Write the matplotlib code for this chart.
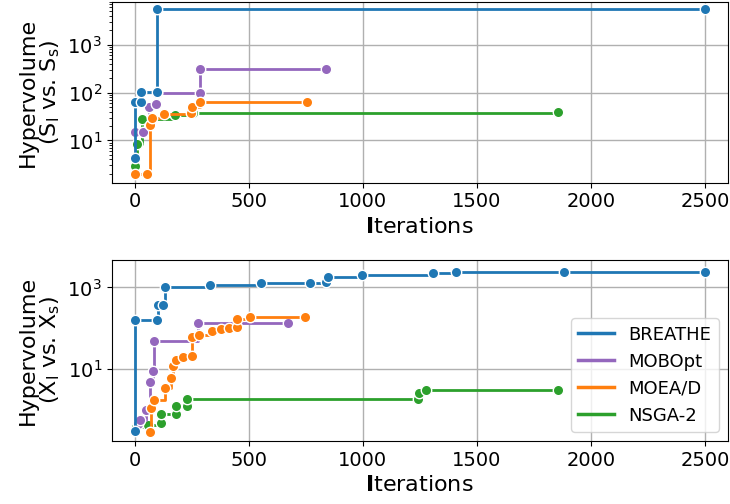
import matplotlib.pyplot as plt
from matplotlib.lines import Line2D
from matplotlib.ticker import NullLocator

methods = ["BREATHE", "MOBOpt", "MOEA/D", "NSGA-2"]
colors = {"BREATHE": "#1f77b4", "MOBOpt": "#9467bd", "MOEA/D": "#ff7f0e", "NSGA-2": "#2ca02c"}

# top panel: hypervolume (S_l vs. S_s)
top_x = {
    "BREATHE": [0, 0, 30, 30, 100, 100, 2500],
    "MOBOpt": [0, 37, 63, 92, 100, 285, 285, 838],
    "MOEA/D": [0, 56, 70, 76, 129, 249, 252, 285, 756],
    "NSGA-2": [0, 12, 32, 176, 255, 1858],
}
top_y = {
    "BREATHE": [4.3, 64, 64, 105, 105, 5600, 5600],
    "MOBOpt": [14.7, 15, 49, 57, 100, 100, 310, 310],
    "MOEA/D": [1.96, 1.96, 21, 30, 36, 37, 50, 63, 63],
    "NSGA-2": [2.9, 8.4, 28, 34, 38, 38.6],
}

# bottom panel: hypervolume (X_l vs. X_s)
bot_x = {
    "BREATHE": [0, 0, 98, 105, 127, 135, 329, 556, 768, 840, 846, 998, 1307, 1408, 1883, 2500],
    "MOBOpt": [15, 22, 51, 70, 80, 85, 278, 673],
    "MOEA/D": [70, 73, 85, 132, 158, 168, 183, 212, 252, 252, 283, 340, 380, 414, 447, 447, 505, 749],
    "NSGA-2": [5, 60, 115, 115, 180, 180, 230, 230, 1242, 1246, 1277, 1858],
}
bot_y = {
    "BREATHE": [0.29, 159, 159, 370, 370, 1040, 1180, 1320, 1320, 1400, 1830, 2040, 2240, 2400, 2460, 2460],
    "MOBOpt": [0.45, 0.54, 0.95, 4.7, 8.7, 49, 131, 131],
    "MOEA/D": [0.28, 1.1, 1.67, 3.35, 5.9, 12, 16.6, 19.3, 20.4, 60, 66, 85, 94, 100, 105, 167, 183, 183],
    "NSGA-2": [0.38, 0.42, 0.47, 0.76, 0.78, 1.2, 1.22, 1.84, 1.84, 2.6, 3.05, 3.05],
}

draw_order = ["NSGA-2", "MOBOpt", "MOEA/D", "BREATHE"]

fig, axes = plt.subplots(2, 1, figsize=(7.3, 5.04), dpi=100)
fig.subplots_adjust(left=0.153, right=0.997, top=0.997, bottom=0.125, hspace=0.425)

panels = [
    (axes[0], top_x, top_y, "Hypervolume\n(S$_\\mathrm{l}$ vs. S$_\\mathrm{s}$)", (1.3, 8000)),
    (axes[1], bot_x, bot_y, "Hypervolume\n(X$_\\mathrm{l}$ vs. X$_\\mathrm{s}$)", (0.168, 4800)),
]

for ax, xs, ys, ylabel, ylim in panels:
    for z, m in enumerate(draw_order):
        ax.plot(xs[m], ys[m], drawstyle="steps-post", color=colors[m], lw=2,
                marker="o", ms=7.5, mec="white", mew=1, zorder=2 + z, label=m)
    ax.set_yscale("log")
    ax.set_ylim(*ylim)
    ax.set_xlim(-100, 2600)
    ax.grid(True, color="#b0b0b0", lw=1)
    ax.set_axisbelow(True)
    ax.set_xlabel(r"$\mathbf{I}$terations", fontsize=16)
    ax.set_ylabel(ylabel, fontsize=16, linespacing=1.0)
    ax.tick_params(labelsize=14)

# bottom panel only shows every other decade
axes[1].set_yticks([10, 1000])
axes[1].yaxis.set_minor_locator(NullLocator())

leg_handles = [Line2D([], [], color=colors[m], lw=2.5) for m in methods]
axes[1].legend(leg_handles, methods, loc="lower right", fontsize=13)

fig.savefig("out.png", dpi=100)
